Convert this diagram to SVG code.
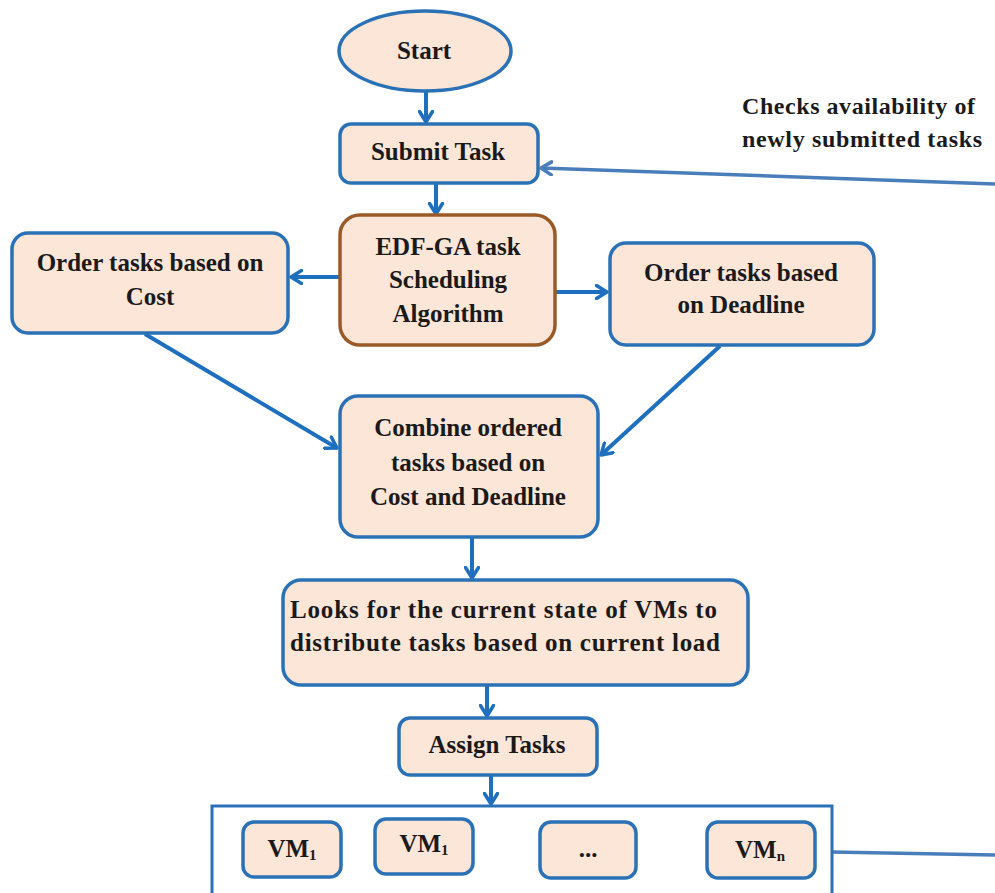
<svg xmlns="http://www.w3.org/2000/svg" width="995" height="893" viewBox="0 0 995 893">
<defs>
<marker id="arr" markerUnits="userSpaceOnUse" viewBox="0 0 14 16" refX="12" refY="8" markerWidth="14" markerHeight="16" orient="auto">
<path d="M1.5,1.5 L12,8 L1.5,14.5" fill="none" stroke="#1f6fbf" stroke-width="3.5" stroke-linecap="round" stroke-linejoin="round"/>
</marker>
<marker id="arr2" markerUnits="userSpaceOnUse" viewBox="0 0 14 16" refX="12" refY="8" markerWidth="14" markerHeight="16" orient="auto">
<path d="M1.5,1.5 L12,8 L1.5,14.5" fill="none" stroke="#4a7ebb" stroke-width="3.5" stroke-linecap="round" stroke-linejoin="round"/>
</marker>
</defs>
<style>
.box{fill:#fce6d7;stroke:#2a72b5;stroke-width:3.5}
.brown{fill:#fce6d7;stroke:#9a5a28;stroke-width:3.5}
.cont{fill:#ffffff;stroke:#2a72b5;stroke-width:3}
.t{font-family:"Liberation Serif","Times New Roman",serif;font-weight:bold;font-size:25px;fill:#1a1a1a;text-anchor:middle}
.ts{font-family:"Liberation Serif","Times New Roman",serif;font-weight:bold;font-size:24px;fill:#1a1a1a}
.c{fill:none;stroke:#1f6fbf;stroke-width:4;marker-end:url(#arr)}
.fb{fill:none;stroke:#4a7ebb;stroke-width:3.5}
</style>
<rect width="995" height="893" fill="#ffffff"/>
<g id="connectors">
<line class="c" x1="426" y1="90" x2="426" y2="122"/>
<line class="c" x1="436" y1="183" x2="436" y2="214"/>
<line class="c" x1="340" y1="277" x2="291" y2="277"/>
<line class="c" x1="555" y1="292" x2="607" y2="292"/>
<line class="c" x1="145" y1="334" x2="337" y2="448"/>
<line class="c" x1="720" y1="346" x2="601" y2="455"/>
<line class="c" x1="472" y1="537" x2="472" y2="578"/>
<line class="c" x1="487" y1="685" x2="487" y2="716"/>
<line class="c" x1="491" y1="775" x2="491" y2="804"/>
<line class="fb" x1="832" y1="852" x2="995" y2="855"/>
<line class="fb" x1="995" y1="184" x2="541" y2="168" marker-end="url(#arr2)"/>
</g>
<g id="start">
<ellipse cx="425" cy="51" rx="86" ry="40" class="box"/>
<text class="t" x="424" y="59">Start</text>
</g>
<g id="submit">
<rect x="340" y="124" width="198" height="59" rx="11" class="box"/>
<text class="t" x="438" y="160">Submit Task</text>
</g>
<g id="note">
<text class="ts" x="742" y="114" textLength="233" lengthAdjust="spacing">Checks availability of</text>
<text class="ts" x="742" y="147" textLength="240" lengthAdjust="spacing">newly submitted tasks</text>
</g>
<g id="edf">
<rect x="340" y="215" width="215" height="130" rx="20" class="brown"/>
<text class="t" x="448" y="255">EDF-GA task</text>
<text class="t" x="448" y="288">Scheduling</text>
<text class="t" x="448" y="322">Algorithm</text>
</g>
<g id="ordercost">
<rect x="12" y="233" width="276" height="100" rx="16" class="box"/>
<text class="t" x="150" y="271">Order tasks based on</text>
<text class="t" x="150" y="305">Cost</text>
</g>
<g id="orderdeadline">
<rect x="610" y="243" width="264" height="102" rx="16" class="box"/>
<text class="t" x="741" y="281">Order tasks based</text>
<text class="t" x="741" y="313">on Deadline</text>
</g>
<g id="combine">
<rect x="340" y="396" width="258" height="141" rx="18" class="box"/>
<text class="t" x="468" y="436">Combine ordered</text>
<text class="t" x="468" y="471">tasks based on</text>
<text class="t" x="468" y="505">Cost and Deadline</text>
</g>
<g id="looks">
<rect x="283" y="580" width="465" height="105" rx="18" class="box"/>
<text class="t" x="290" y="618" style="text-anchor:start" textLength="427" lengthAdjust="spacing">Looks for the current state of VMs to</text>
<text class="t" x="290" y="651" style="text-anchor:start" textLength="430" lengthAdjust="spacing">distribute tasks based on current load</text>
</g>
<g id="assign">
<rect x="399" y="718" width="198" height="57" rx="11" class="box"/>
<text class="t" x="497" y="753">Assign Tasks</text>
</g>
<g id="vms">
<rect x="212" y="806" width="620" height="100" class="cont"/>
<g id="vm1a">
<rect x="243" y="822" width="98" height="55" rx="11" class="box"/>
<text class="t" x="292" y="857">VM<tspan font-size="15" dy="3">1</tspan></text>
</g>
<g id="vm1b">
<rect x="375" y="819" width="98" height="55" rx="11" class="box"/>
<text class="t" x="424" y="852">VM<tspan font-size="15" dy="3">1</tspan></text>
</g>
<g id="vmdots">
<rect x="540" y="822" width="96" height="56" rx="11" class="box"/>
<text class="t" x="588" y="857">...</text>
</g>
<g id="vmn">
<rect x="707" y="822" width="108" height="56" rx="11" class="box"/>
<text class="t" x="760" y="858">VM<tspan font-size="15" dy="3">n</tspan></text>
</g>
</g>
</svg>
